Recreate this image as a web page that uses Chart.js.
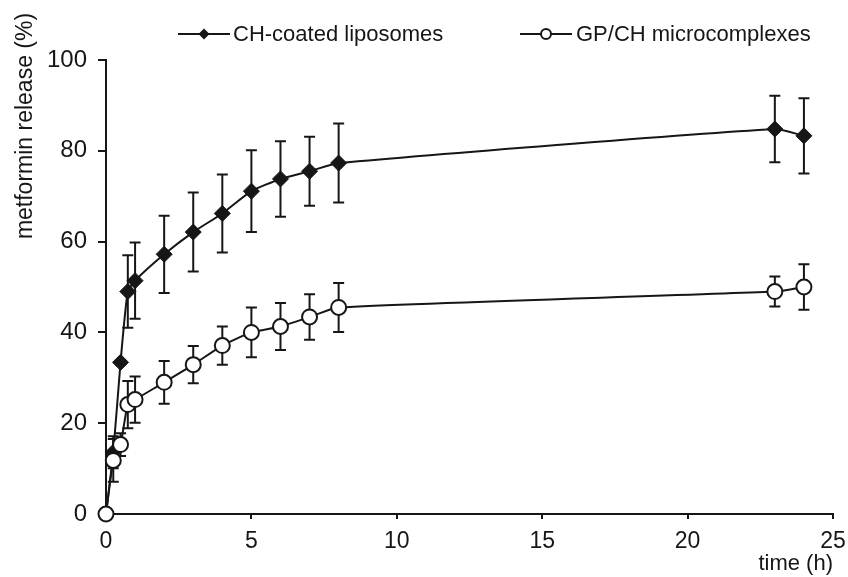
<!DOCTYPE html>
<html lang="en">
<head>
  <meta charset="UTF-8" />
  <title>Metformin release</title>
  <style>
    body {
      margin: 0;
      background: #fff;
    }
    #wrap {
      width: 848px;
      height: 577px;
    }
  </style>
</head>
<body>
  <div id="wrap"><canvas id="chart"></canvas></div>

  <script src="https://cdn.jsdelivr.net/npm/chart.js"></script>
  <script>
    // time points (h)
    const times = [0, 0.25, 0.5, 0.75, 1, 2, 3, 4, 5, 6, 7, 8, 23, 24];

    // CH-coated liposomes
    const chValues = [0, 13.6, 33.4, 49.0, 51.4, 57.2, 62.1, 66.2, 71.1, 73.8, 75.5, 77.3, 84.8, 83.3];
    const chErrors = [0, 3.5, 0, 8.0, 8.4, 8.5, 8.7, 8.6, 9.0, 8.3, 7.6, 8.7, 7.3, 8.3];

    // GP/CH microcomplexes
    const gpValues = [0, 11.8, 15.3, 24.1, 25.2, 29.0, 32.9, 37.1, 40.0, 41.3, 43.4, 45.5, 49.0, 50.0];
    const gpErrors = [0, 4.7, 2.5, 5.2, 5.1, 4.7, 4.1, 4.2, 5.5, 5.2, 5.0, 5.4, 3.3, 5.0];

    const xTicks = [0, 5, 10, 15, 20, 25];
    const yTicks = [0, 20, 40, 60, 80, 100];

    const ink = '#161616';
    const fontFamily = '"Liberation Sans", Arial, sans-serif';

    function toPoints(vals) {
      return vals.map((v, i) => ({ x: times[i], y: v }));
    }

    // error bars, drawn under the markers
    const errorBars = {
      id: 'errorBars',
      beforeDatasetsDraw(chart) {
        const { ctx, scales: { x, y } } = chart;
        ctx.save();
        ctx.strokeStyle = ink;
        ctx.lineWidth = 2;
        chart.data.datasets.forEach(ds => {
          ds.data.forEach((p, j) => {
            const e = ds.errors[j];
            if (!e) return;
            const px = x.getPixelForValue(p.x);
            const top = y.getPixelForValue(p.y + e);
            const bot = y.getPixelForValue(p.y - e);
            ctx.beginPath();
            ctx.moveTo(px, top);
            ctx.lineTo(px, bot);
            ctx.moveTo(px - 5.5, top);
            ctx.lineTo(px + 5.5, top);
            ctx.moveTo(px - 5.5, bot);
            ctx.lineTo(px + 5.5, bot);
            ctx.stroke();
          });
        });
        ctx.restore();
      }
    };

    // legend and y title
    const extras = {
      id: 'extras',
      afterDraw(chart) {
        const ctx = chart.ctx;
        ctx.save();
        ctx.fillStyle = ink;
        ctx.strokeStyle = ink;
        ctx.lineWidth = 2;
        ctx.font = '22px ' + fontFamily;
        ctx.textBaseline = 'middle';
        const ly = 34;

        // item 1: line with diamond
        ctx.beginPath();
        ctx.moveTo(178, ly);
        ctx.lineTo(230, ly);
        ctx.stroke();
        ctx.beginPath();
        ctx.moveTo(204, ly - 5.5);
        ctx.lineTo(209.5, ly);
        ctx.lineTo(204, ly + 5.5);
        ctx.lineTo(198.5, ly);
        ctx.closePath();
        ctx.fill();
        ctx.fillText(chart.data.datasets[0].label, 233, ly + 1);

        // item 2: line with open circle
        ctx.beginPath();
        ctx.moveTo(520, ly);
        ctx.lineTo(572, ly);
        ctx.stroke();
        ctx.beginPath();
        ctx.arc(546, ly, 5, 0, Math.PI * 2);
        ctx.fillStyle = '#fff';
        ctx.fill();
        ctx.stroke();
        ctx.fillStyle = ink;
        ctx.fillText(chart.data.datasets[1].label, 576, ly + 1);

        // y axis title
        ctx.translate(26, 126);
        ctx.rotate(-Math.PI / 2);
        ctx.textAlign = 'center';
        ctx.font = '23px ' + fontFamily;
        ctx.fillText('metformin release (%)', 0, 0);
        ctx.restore();
      }
    };

    const ctx = document.getElementById('chart').getContext('2d');
    const chart = new Chart(ctx, {
      type: 'line',
      data: {
        datasets: [
          {
            label: 'CH-coated liposomes',
            data: toPoints(chValues),
            errors: chErrors,
            borderColor: ink,
            borderWidth: 2,
            backgroundColor: ink,
            pointStyle: 'rectRot',
            pointRadius: 8,
            pointBorderWidth: 1,
            pointBorderColor: ink,
            pointBackgroundColor: ink,
            tension: 0.2,
            clip: false,
            order: 1
          },
          {
            label: 'GP/CH microcomplexes',
            data: toPoints(gpValues),
            errors: gpErrors,
            borderColor: ink,
            borderWidth: 2,
            backgroundColor: '#fff',
            pointStyle: 'circle',
            pointRadius: 7.5,
            pointBorderWidth: 2,
            pointBorderColor: ink,
            pointBackgroundColor: '#fff',
            tension: 0.2,
            clip: false,
            order: 0
          }
        ]
      },
      options: {
        responsive: true,
        maintainAspectRatio: false,
        animation: false,
        layout: {
          padding: { top: 60, right: 15, left: 0, bottom: 0 }
        },
        plugins: {
          legend: { display: false },
          tooltip: { enabled: false }
        },
        scales: {
          x: {
            type: 'linear',
            min: 0,
            max: 25,
            afterBuildTicks: s => { s.ticks = xTicks.map(v => ({ value: v })); },
            afterFit: s => { s.height = 63; s.paddingLeft = 0; s.paddingRight = 0; },
            grid: { drawOnChartArea: false, drawTicks: true, tickLength: 5, color: ink, lineWidth: 2 },
            border: { display: true, color: ink, width: 2 },
            ticks: { color: ink, padding: 9, font: { family: fontFamily, size: 23 } },
            title: {
              display: true,
              text: 'time (h)',
              align: 'end',
              color: ink,
              padding: { top: 0, bottom: 0 },
              font: { family: fontFamily, size: 22 }
            }
          },
          y: {
            min: 0,
            max: 100,
            afterBuildTicks: s => { s.ticks = yTicks.map(v => ({ value: v })); },
            afterFit: s => { s.width = 106; },
            grid: { drawOnChartArea: false, drawTicks: true, tickLength: 8, color: ink, lineWidth: 2 },
            border: { display: true, color: ink, width: 2 },
            ticks: { color: ink, padding: 11, font: { family: fontFamily, size: 24 } }
          }
        }
      },
      plugins: [errorBars, extras]
    });
  </script>
</body>
</html>
